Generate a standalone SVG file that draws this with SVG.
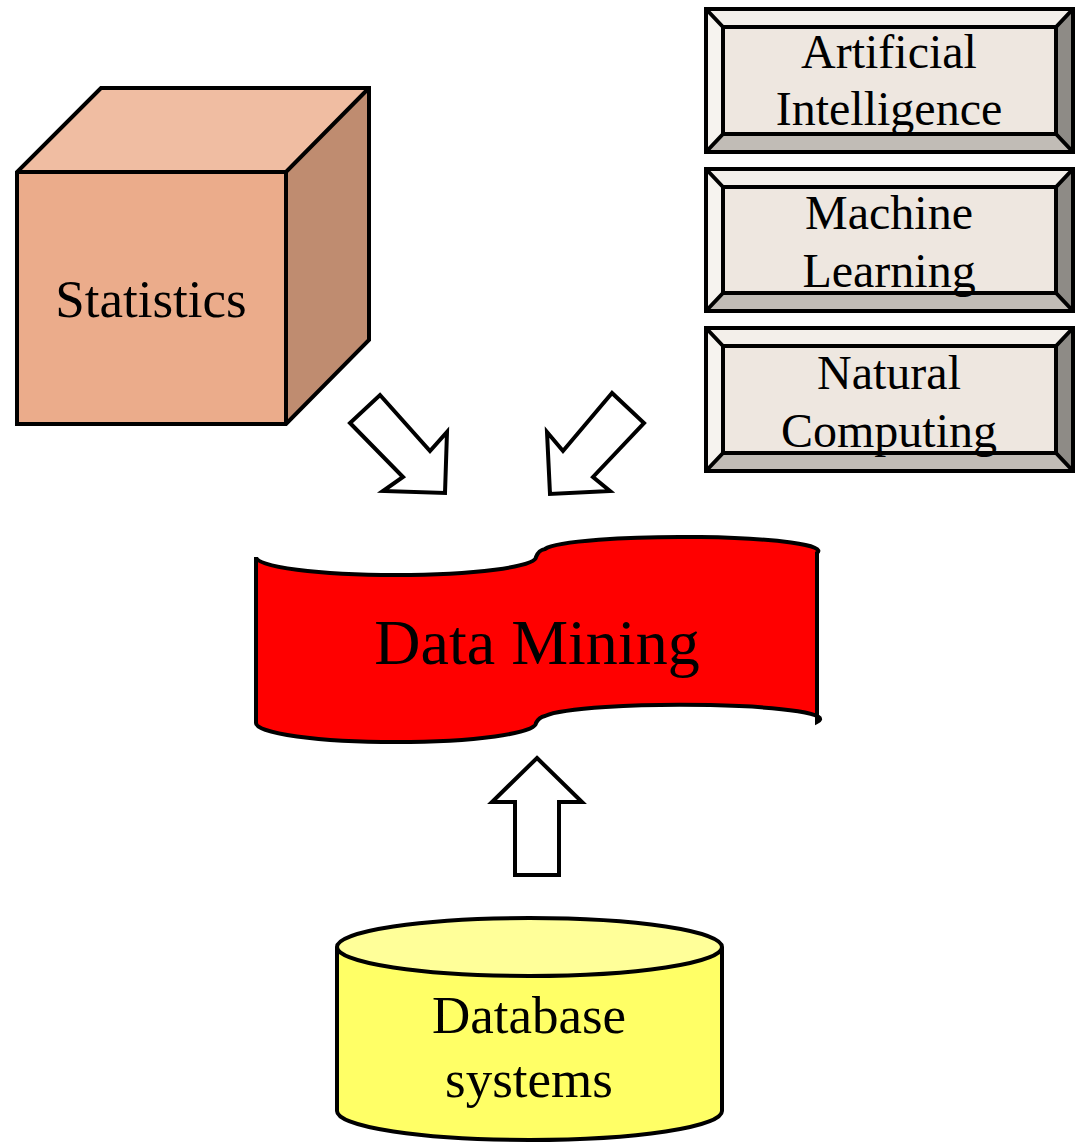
<svg xmlns="http://www.w3.org/2000/svg" width="1080" height="1143" viewBox="0 0 1080 1143">
  <style>
    .txt { font-family: "Liberation Serif", "Times New Roman", serif; fill: #000; text-anchor: middle; }
    .ol { stroke: #000; stroke-width: 4; stroke-linejoin: miter; }
    .bt { fill: #F3EFEA; }
    .bl { fill: #F6F3EF; }
    .br { fill: #8E8B86; }
    .bb { fill: #C1BCB6; }
    .bi { fill: #EEE7E0; }
    .arrow { fill: #FFFFFF; stroke: #000; stroke-width: 4; stroke-linejoin: miter; }
  </style>
  <rect width="1080" height="1143" fill="#FFFFFF"/>

  <g id="statistics">
    <polygon points="17,172 101,88 369,88 286,172" fill="#F0BDA2"/>
    <polygon points="286,172 369,88 369,340 286,424" fill="#BF8C70"/>
    <rect x="17" y="172" width="269" height="252" fill="#EBAC8B"/>
    <path class="ol" fill="none" d="M17,424 L17,172 L101,88 L369,88 L369,340 L286,424 Z M17,172 L286,172 L369,88 M286,172 L286,424"/>
    <text class="txt" x="151" y="317" font-size="53">Statistics</text>
  </g>

  <g id="artificial-intelligence">
    <polygon class="bt" points="706,9 1073,9 1056,27 723,27"/>
    <polygon class="bl" points="706,9 723,27 723,134 706,152"/>
    <polygon class="br" points="1073,9 1073,152 1056,134 1056,27"/>
    <polygon class="bb" points="706,152 723,134 1056,134 1073,152"/>
    <rect class="bi ol" x="723" y="27" width="333" height="107"/>
    <path class="ol" fill="none" d="M706,9 L723,27 M1073,9 L1056,27 M706,152 L723,134 M1073,152 L1056,134"/>
    <rect class="ol" fill="none" x="706" y="9" width="367" height="143"/>
    <text class="txt" x="889" y="68" font-size="48">Artificial</text>
    <text class="txt" x="889" y="125" font-size="48">Intelligence</text>
  </g>

  <g id="machine-learning">
    <polygon class="bt" points="706,169 1073,169 1056,187 723,187"/>
    <polygon class="bl" points="706,169 723,187 723,293 706,311"/>
    <polygon class="br" points="1073,169 1073,311 1056,293 1056,187"/>
    <polygon class="bb" points="706,311 723,293 1056,293 1073,311"/>
    <rect class="bi ol" x="723" y="187" width="333" height="106"/>
    <path class="ol" fill="none" d="M706,169 L723,187 M1073,169 L1056,187 M706,311 L723,293 M1073,311 L1056,293"/>
    <rect class="ol" fill="none" x="706" y="169" width="367" height="142"/>
    <text class="txt" x="889" y="229" font-size="48">Machine</text>
    <text class="txt" x="889" y="287" font-size="48">Learning</text>
  </g>

  <g id="natural-computing">
    <polygon class="bt" points="706,328 1073,328 1056,346 723,346"/>
    <polygon class="bl" points="706,328 723,346 723,453 706,471"/>
    <polygon class="br" points="1073,328 1073,471 1056,453 1056,346"/>
    <polygon class="bb" points="706,471 723,453 1056,453 1073,471"/>
    <rect class="bi ol" x="723" y="346" width="333" height="107"/>
    <path class="ol" fill="none" d="M706,328 L723,346 M1073,328 L1056,346 M706,471 L723,453 M1073,471 L1056,453"/>
    <rect class="ol" fill="none" x="706" y="328" width="367" height="143"/>
    <text class="txt" x="889" y="389" font-size="48">Natural</text>
    <text class="txt" x="889" y="447" font-size="48">Computing</text>
  </g>

  <g id="data-mining">
    <path class="ol" stroke-linejoin="round" fill="#FF0000" d="M256,557 A140,18 0 0 0 536,557 C538,552 540,550 545,549 A137,14 0 0 1 817,553 L817,722 A137,14 0 0 0 545,716 C540,717 538,719 536,723 A140,19 0 0 1 256,723 Z"/>
    <text class="txt" x="537" y="664" font-size="64">Data Mining</text>
  </g>

  <g id="database-systems">
    <path class="ol" fill="#FFFF66" d="M337,947 L337,1111 A192.5,29 0 0 0 722,1111 L722,947"/>
    <ellipse class="ol" cx="529.5" cy="947" rx="192.5" ry="29" fill="#FFFF99"/>
    <text class="txt" x="529" y="1033" font-size="53">Database</text>
    <text class="txt" x="529" y="1097" font-size="53">systems</text>
  </g>

  <g id="connectors">
    <polygon class="arrow" points="380,395 430,451 447,432 445,493 383,491 403,477 350,423"/>
    <polygon class="arrow" points="612,393 563,451 547,432 550,494 610,491 593,477 644,423"/>
    <polygon class="arrow" points="537,758 582,802 559,802 559,875 515,875 515,802 492,802"/>
  </g>
</svg>
